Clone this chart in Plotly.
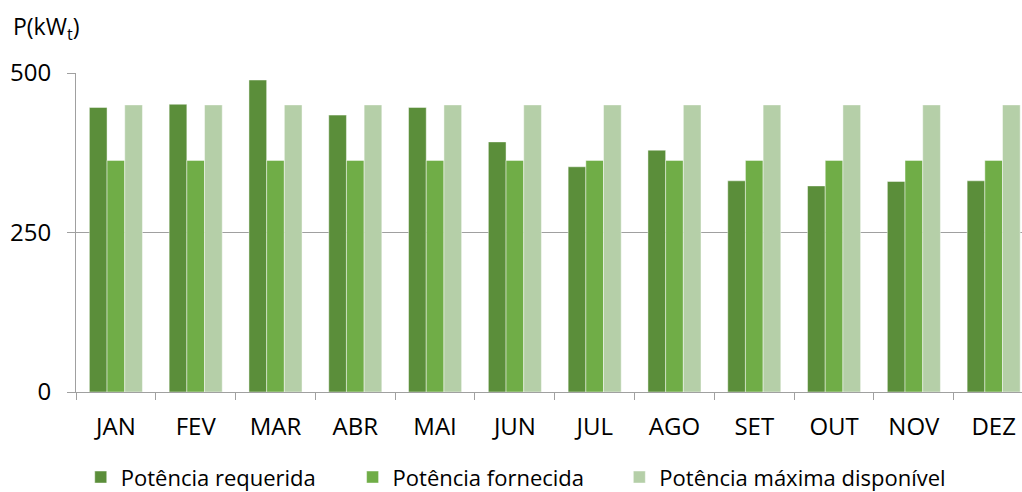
import plotly.graph_objects as go

months = ["JAN", "FEV", "MAR", "ABR", "MAI", "JUN", "JUL", "AGO", "SET", "OUT", "NOV", "DEZ"]
requerida = [446, 451, 489, 434, 446, 392, 353, 379, 331, 323, 330, 331]
fornecida = [363, 363, 363, 363, 363, 363, 363, 363, 363, 363, 363, 363]
maxima = [450, 450, 450, 450, 450, 450, 450, 450, 450, 450, 450, 450]

series = [
    ("Potência requerida", requerida, "#5B8E3A", "legend", 0.079),
    ("Potência fornecida", fornecida, "#70AD47", "legend2", 0.345),
    ("Potência máxima disponível", maxima, "#B5CFA8", "legend3", 0.606),
]

FONT = "Open Sans"

fig = go.Figure()
legends = {}
for name, vals, color, leg, lx in series:
    fig.add_trace(go.Bar(
        x=months, y=vals, name=name, legend=leg,
        marker=dict(color=color, line=dict(color="rgba(255,255,255,0.45)", width=1)),
    ))
    legends[leg] = dict(
        orientation="h", xref="container", x=lx, xanchor="left",
        yref="container", y=0.03, yanchor="middle",
        font=dict(size=22), itemwidth=30, bgcolor="rgba(0,0,0,0)",
    )

fig.update_layout(
    width=1022, height=492,
    margin=dict(l=76, r=0, t=73, b=100, autoexpand=False),
    paper_bgcolor="white", plot_bgcolor="white",
    barmode="group", bargap=0.335, bargroupgap=0,
    font=dict(family=FONT, size=22, color="#000000"),
    showlegend=True,
    annotations=[dict(
        text="P(kW<sub>t</sub>)", xref="paper", yref="paper",
        x=-0.069, y=1.142, xanchor="left", yanchor="middle", showarrow=False,
        font=dict(size=23, family=FONT),
    )],
    **legends,
)

fig.update_xaxes(
    type="category", range=[-0.5, 11.355],
    showline=True, linecolor="#A0A0A0", linewidth=1,
    ticks="outside", tickson="boundaries", ticklen=7, tickcolor="#A0A0A0",
    tickfont=dict(size=24), ticklabelstandoff=13, showgrid=False,
)
fig.update_yaxes(
    range=[0, 500], tickvals=[0, 250, 500],
    showline=True, linecolor="#A0A0A0", linewidth=1,
    ticks="outside", ticklen=8, tickcolor="#A0A0A0",
    showgrid=True, gridcolor="#A0A0A0", gridwidth=1,
    zeroline=False, tickfont=dict(size=24), ticklabelstandoff=11,
)

fig.write_html("out.html")
